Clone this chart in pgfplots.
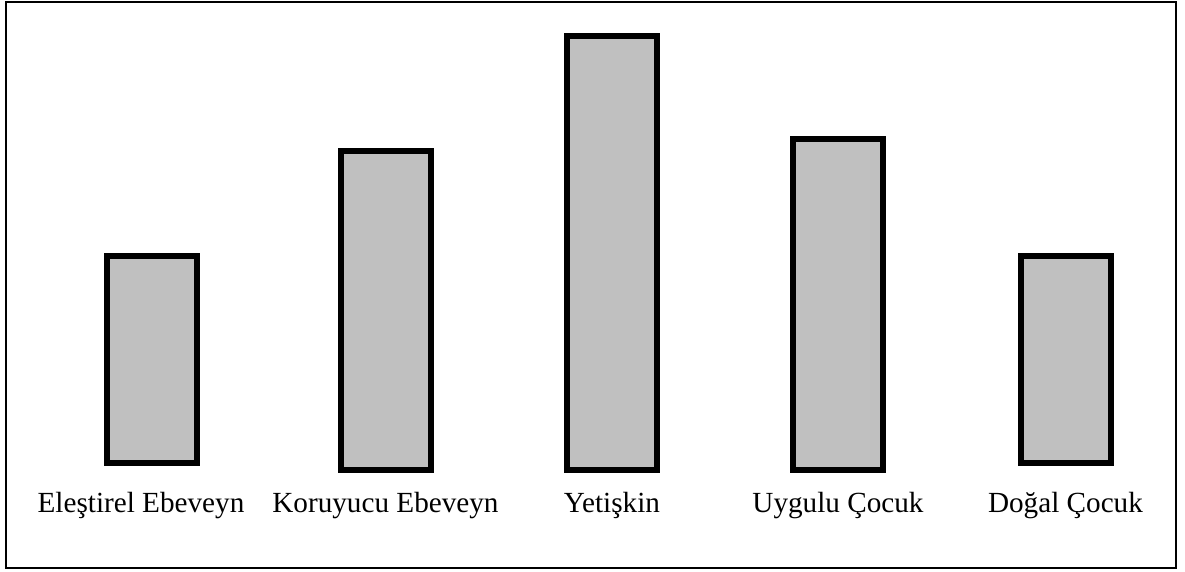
\documentclass[border=0pt]{standalone}
\usepackage{pgfplots}
\pgfplotsset{compat=1.18}
\usepackage{fontspec}
\setmainfont{Liberation Serif}
\definecolor{barfill}{RGB}{192,192,192}
\begin{document}
\begin{tikzpicture}
\begin{axis}[
  scale only axis,
  width=585pt, height=283pt,
  xmin=6, xmax=1176, ymin=4, ymax=570,
  ybar stacked,
  bar width=90,
  axis line style={line width=0.8pt, black},
  xtick={152,385.5,612,838,1065.5},
  xticklabels={{\kern-11pt Eleştirel Ebeveyn},Koruyucu Ebeveyn,Yetişkin,Uygulu Çocuk,Doğal Çocuk},
  ytick=\empty,
  major tick length=0pt,
  xticklabel style={anchor=base, yshift=27.5pt, font=\fontsize{14.6}{17}\selectfont},
  clip=false,
]
\addplot[draw=none, fill=none] coordinates {(152,109) (385.5,102) (612,102) (838,102) (1065.5,109)};
\addplot[fill=barfill, draw=black, line width=3pt] coordinates {(152,207) (385.5,319) (612,434) (838,331) (1065.5,207)};
\path (axis cs:0,0) rectangle (axis cs:1185,572);
\end{axis}
\end{tikzpicture}
\end{document}
